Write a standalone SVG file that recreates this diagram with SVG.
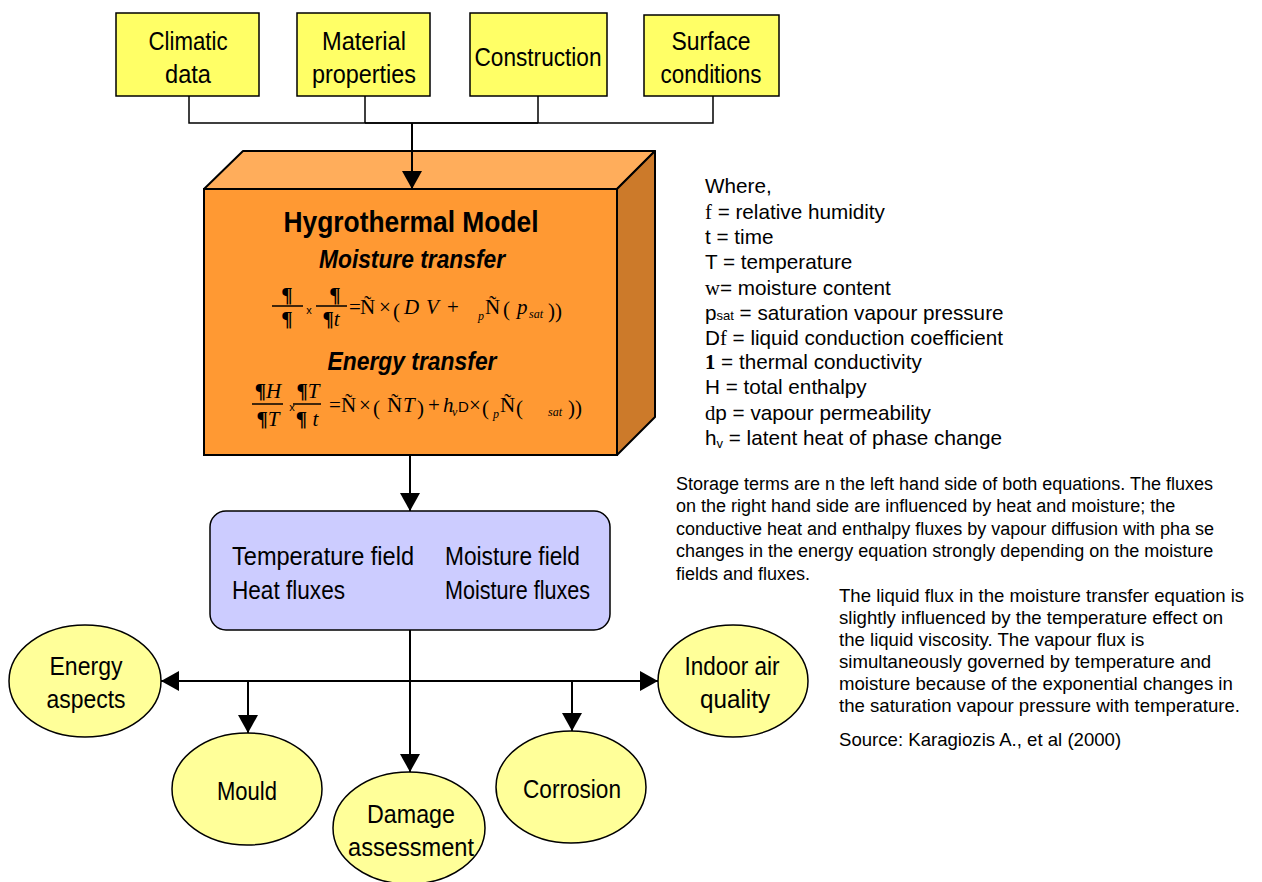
<svg xmlns="http://www.w3.org/2000/svg" width="1262" height="882" viewBox="0 0 1262 882">
  <defs>
    <marker id="arrow" markerUnits="userSpaceOnUse" markerWidth="20" markerHeight="20" viewBox="0 0 20 20" refX="18" refY="10" orient="auto">
      <path d="M0,0 L18,10 L0,20 Z" fill="#000"/>
    </marker>
    <style>
      .input { fill: #FFFF66; stroke: #000; stroke-width: 1.5; }
      .outcome { fill: #FFFF99; stroke: #000; stroke-width: 1.5; }
      .lbl { font-family: "Liberation Sans", Arial, sans-serif; font-size: 26px; fill: #000; text-anchor: middle; }
      .wire { fill: none; stroke: #000; stroke-width: 1.5; }
      .flow { fill: none; stroke: #000; stroke-width: 2; marker-end: url(#arrow); }
      .eq { font-family: "Liberation Serif", "Times New Roman", serif; font-size: 21px; fill: #000; }
      .eqi { font-family: "Liberation Serif", "Times New Roman", serif; font-style: italic; font-size: 21px; fill: #000; }
      .sub { font-family: "Liberation Serif", "Times New Roman", serif; font-style: italic; font-size: 12px; fill: #000; }
      .par { font-family: "Liberation Sans", Arial, sans-serif; font-size: 20.7px; fill: #000; }
      .note { font-family: "Liberation Sans", Arial, sans-serif; font-size: 18px; fill: #000; }
      .note2 { font-family: "Liberation Sans", Arial, sans-serif; font-size: 18.6px; fill: #000; }
    </style>
  </defs>

  <!-- input boxes -->
  <g id="climatic-data">
    <rect class="input" x="116" y="13" width="143" height="83"/>
    <text class="lbl" x="188" y="50" textLength="79" lengthAdjust="spacingAndGlyphs">Climatic</text>
    <text class="lbl" x="188" y="83" textLength="46" lengthAdjust="spacingAndGlyphs">data</text>
  </g>
  <g id="material-properties">
    <rect class="input" x="297" y="13" width="133" height="83"/>
    <text class="lbl" x="364" y="50" textLength="84" lengthAdjust="spacingAndGlyphs">Material</text>
    <text class="lbl" x="364" y="83" textLength="104" lengthAdjust="spacingAndGlyphs">properties</text>
  </g>
  <g id="construction">
    <rect class="input" x="470" y="13" width="137" height="83"/>
    <text class="lbl" x="538" y="66" textLength="127" lengthAdjust="spacingAndGlyphs">Construction</text>
  </g>
  <g id="surface-conditions">
    <rect class="input" x="644" y="15" width="135" height="81"/>
    <text class="lbl" x="711" y="50" textLength="79" lengthAdjust="spacingAndGlyphs">Surface</text>
    <text class="lbl" x="711" y="83" textLength="101" lengthAdjust="spacingAndGlyphs">conditions</text>
  </g>

  <!-- hygrothermal model block -->
  <g id="hygrothermal-model">
    <polygon points="204,189 243,151 655,151 617,189" fill="#FFAD5B" stroke="#000" stroke-width="2" stroke-linejoin="round"/>
    <polygon points="617,189 655,151 655,417 617,455" fill="#CC7A2A" stroke="#000" stroke-width="2" stroke-linejoin="round"/>
    <rect x="204" y="189" width="413" height="266" fill="#FF9933" stroke="#000" stroke-width="2"/>
    <text x="411" y="232" font-family="Liberation Sans, Arial, sans-serif" font-weight="bold" font-size="30" text-anchor="middle" textLength="255" lengthAdjust="spacingAndGlyphs">Hygrothermal  Model</text>
    <text x="412" y="268" font-family="Liberation Sans, Arial, sans-serif" font-weight="bold" font-style="italic" font-size="25" text-anchor="middle" textLength="186" lengthAdjust="spacingAndGlyphs">Moisture transfer</text>
    <text x="412" y="370" font-family="Liberation Sans, Arial, sans-serif" font-weight="bold" font-style="italic" font-size="25" text-anchor="middle" textLength="169" lengthAdjust="spacingAndGlyphs">Energy transfer</text>

    <!-- moisture transfer equation -->
    <g id="moisture-equation">
      <text class="eq" x="287" y="302" font-weight="bold" text-anchor="middle">¶</text>
      <line x1="272" y1="306" x2="303" y2="306" stroke="#000" stroke-width="1.5"/>
      <text class="eq" x="287" y="326" font-weight="bold" text-anchor="middle">¶</text>
      <text x="309" y="314" font-family="Liberation Sans, Arial, sans-serif" font-size="11" text-anchor="middle">x</text>
      <text class="eq" x="335" y="302" font-weight="bold" text-anchor="middle">¶</text>
      <line x1="316" y1="306" x2="347" y2="306" stroke="#000" stroke-width="1.5"/>
      <text class="eq" x="331" y="326" text-anchor="middle"><tspan font-weight="bold">¶</tspan><tspan font-style="italic">t</tspan></text>
      <text class="eq" x="349" y="314" font-size="13">=</text>
      <text class="eq" x="360" y="314">Ñ</text>
      <text class="eq" x="379" y="314">×</text>
      <text class="eq" x="393" y="318" font-size="30">(</text>
      <text class="eqi" x="404" y="314">D</text>
      <text class="eqi" x="426" y="314">V</text>
      <text class="eq" x="447" y="314">+</text>
      <text class="sub" x="478" y="320" font-size="13">p</text>
      <text class="eq" x="485" y="314">Ñ</text>
      <text class="eq" x="503" y="316" font-size="25">(</text>
      <text class="eqi" x="517" y="314">p</text>
      <text class="sub" x="529" y="318" font-size="13">sat</text>
      <text class="eq" x="548" y="318" font-size="30">))</text>
    </g>

    <!-- energy transfer equation -->
    <g id="energy-equation">
      <text class="eq" x="268" y="398" text-anchor="middle"><tspan font-weight="bold">¶</tspan><tspan font-style="italic">H</tspan></text>
      <line x1="252" y1="404" x2="283" y2="404" stroke="#000" stroke-width="1.5"/>
      <text class="eq" x="268" y="426" text-anchor="middle"><tspan font-weight="bold">¶</tspan><tspan font-style="italic">T</tspan></text>
      <text x="292" y="411" font-family="Liberation Sans, Arial, sans-serif" font-size="11" text-anchor="middle">x</text>
      <text class="eq" x="308" y="398" text-anchor="middle"><tspan font-weight="bold">¶</tspan><tspan font-style="italic">T</tspan></text>
      <line x1="293" y1="404" x2="321" y2="404" stroke="#000" stroke-width="1.5"/>
      <text class="eq" x="307" y="426" text-anchor="middle"><tspan font-weight="bold">¶</tspan><tspan font-style="italic"> t</tspan></text>
      <text class="eq" x="329" y="412" font-size="13">=</text>
      <text class="eq" x="341" y="412">Ñ</text>
      <text class="eq" x="359" y="412">×</text>
      <text class="eq" x="373" y="415" font-size="26">(</text>
      <text class="eq" x="387" y="412">Ñ</text>
      <text class="eqi" x="403" y="412">T</text>
      <text class="eq" x="417" y="415" font-size="26">)</text>
      <text class="eq" x="428" y="412">+</text>
      <text class="eqi" x="443" y="412">h</text>
      <text class="sub" x="452" y="416">v</text>
      <text x="458" y="412" font-family="Liberation Sans, Arial, sans-serif" font-size="15">D</text>
      <text class="eq" x="469" y="412">×</text>
      <text class="eq" x="482" y="415" font-size="26">(</text>
      <text class="sub" x="493" y="418">p</text>
      <text class="eq" x="500" y="412">Ñ</text>
      <text class="eq" x="516" y="415" font-size="26">(</text>
      <text class="sub" x="548" y="416">sat</text>
      <text class="eq" x="568" y="415" font-size="26">))</text>
    </g>
  </g>

  <!-- results box -->
  <g id="results">
    <rect x="210" y="511" width="400" height="119" rx="16" ry="16" fill="#CCCCFF" stroke="#000" stroke-width="1.5"/>
    <text class="lbl" x="232" y="565" style="text-anchor:start" textLength="182" lengthAdjust="spacingAndGlyphs">Temperature  field</text>
    <text class="lbl" x="232" y="599" style="text-anchor:start" textLength="113" lengthAdjust="spacingAndGlyphs">Heat fluxes</text>
    <text class="lbl" x="445" y="565" style="text-anchor:start" textLength="135" lengthAdjust="spacingAndGlyphs">Moisture field</text>
    <text class="lbl" x="445" y="599" style="text-anchor:start" textLength="145" lengthAdjust="spacingAndGlyphs">Moisture fluxes</text>
  </g>

  <!-- outcome ellipses -->
  <g id="energy-aspects">
    <ellipse class="outcome" cx="85" cy="681" rx="76" ry="56"/>
    <text class="lbl" x="86" y="675" textLength="73" lengthAdjust="spacingAndGlyphs">Energy</text>
    <text class="lbl" x="86" y="708" textLength="79" lengthAdjust="spacingAndGlyphs">aspects</text>
  </g>
  <g id="mould">
    <ellipse class="outcome" cx="247" cy="789" rx="75" ry="56"/>
    <text class="lbl" x="247" y="800" textLength="60" lengthAdjust="spacingAndGlyphs">Mould</text>
  </g>
  <g id="damage-assessment">
    <ellipse class="outcome" cx="409" cy="828" rx="76" ry="56"/>
    <text class="lbl" x="411" y="823" textLength="88" lengthAdjust="spacingAndGlyphs">Damage</text>
    <text class="lbl" x="411" y="856" textLength="126" lengthAdjust="spacingAndGlyphs">assessment</text>
  </g>
  <g id="corrosion">
    <ellipse class="outcome" cx="571" cy="787" rx="75" ry="56"/>
    <text class="lbl" x="572" y="798" textLength="98" lengthAdjust="spacingAndGlyphs">Corrosion</text>
  </g>
  <g id="indoor-air-quality">
    <ellipse class="outcome" cx="733" cy="681" rx="75" ry="56"/>
    <text class="lbl" x="732" y="675" textLength="95" lengthAdjust="spacingAndGlyphs">Indoor air</text>
    <text class="lbl" x="735" y="708" textLength="70" lengthAdjust="spacingAndGlyphs">quality</text>
  </g>

  <!-- connectors -->
  <g id="connectors">
    <path class="wire" d="M189,96 V123 H713 V96 M365,96 V123 M538,96 V123"/>
    <line class="wire" x1="365" y1="123" x2="538" y2="123" stroke-width="2.5"/>
    <line class="flow" x1="412" y1="123" x2="412" y2="189"/>
    <line class="flow" x1="410" y1="455" x2="410" y2="511"/>
    <line x1="410" y1="630" x2="410" y2="681" stroke="#000" stroke-width="2"/>
    <line class="flow" x1="410" y1="681" x2="161" y2="681"/>
    <line class="flow" x1="410" y1="681" x2="658" y2="681"/>
    <line class="flow" x1="410" y1="681" x2="410" y2="772"/>
    <line class="flow" x1="248" y1="681" x2="248" y2="733"/>
    <line class="flow" x1="572" y1="681" x2="572" y2="731"/>
  </g>

  <!-- symbol list -->
  <g id="symbols">
    <text class="par" x="705" y="193">Where,</text>
    <text class="par" x="705" y="219"><tspan font-family="Liberation Serif, serif">f</tspan> = relative humidity</text>
    <text class="par" x="705" y="244">t = time</text>
    <text class="par" x="705" y="269">T = temperature</text>
    <text class="par" x="705" y="295"><tspan font-family="Liberation Serif, serif">w</tspan>= moisture content</text>
    <text class="par" x="705" y="320">p<tspan font-size="13">sat</tspan> = saturation vapour pressure</text>
    <text class="par" x="705" y="345">D<tspan font-family="Liberation Serif, serif">f</tspan> = liquid conduction coefficient</text>
    <text class="par" x="705" y="369"><tspan font-family="Liberation Serif, serif" font-weight="bold">1</tspan> = thermal conductivity</text>
    <text class="par" x="705" y="394">H = total enthalpy</text>
    <text class="par" x="705" y="420"><tspan font-family="Liberation Serif, serif">d</tspan>p = vapour permeability</text>
    <text class="par" x="705" y="445">h<tspan font-size="13" dy="3">v</tspan><tspan dy="-3"> = latent heat of phase change</tspan></text>
  </g>

  <!-- explanatory notes -->
  <g id="notes">
    <text class="note" x="676" y="490">Storage terms are n the left hand side of both equations. The fluxes</text>
    <text class="note" x="676" y="512">on the right hand side are influenced by heat and moisture; the</text>
    <text class="note" x="676" y="535">conductive heat and enthalpy fluxes by vapour diffusion with pha se</text>
    <text class="note" x="676" y="557">changes in the energy equation strongly depending on the moisture</text>
    <text class="note" x="676" y="580">fields and fluxes.</text>
    <text class="note2" x="839" y="602">The liquid flux in the moisture transfer equation is</text>
    <text class="note2" x="839" y="624">slightly influenced by the temperature effect on</text>
    <text class="note2" x="839" y="646">the liquid viscosity. The vapour flux is</text>
    <text class="note2" x="839" y="668">simultaneously governed by temperature and</text>
    <text class="note2" x="839" y="690">moisture because of the exponential changes in</text>
    <text class="note2" x="839" y="712">the saturation vapour pressure with temperature.</text>
    <text class="note2" x="839" y="746">Source: Karagiozis A., et al (2000)</text>
  </g>
</svg>
